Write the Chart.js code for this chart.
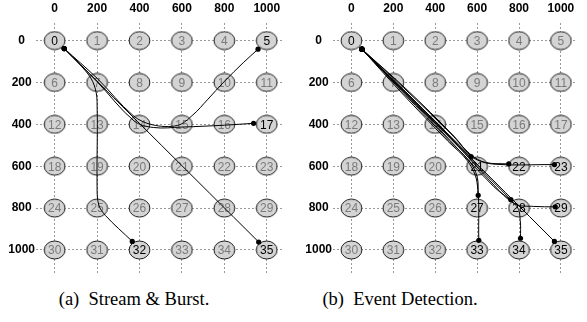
<!DOCTYPE html>
<html><head><meta charset="utf-8">
<script src="https://cdn.jsdelivr.net/npm/chart.js@4.4.1/dist/chart.umd.min.js"></script>
<style>
html,body{margin:0;padding:0;background:#fff;}
body{width:587px;height:322px;position:relative;overflow:hidden;}
.panel{position:absolute;top:0;}
#pa{left:0;}
#pb{left:293px;}
.cap{position:absolute;top:289px;width:240px;text-align:center;font-family:"Liberation Serif","Times New Roman",serif;font-size:18.5px;line-height:20px;color:#000;white-space:nowrap;}
</style></head><body>
<div class="panel" id="pa"><canvas id="ca" width="293" height="284"></canvas></div>
<div class="panel" id="pb"><canvas id="cb" width="294" height="284"></canvas></div>
<div class="cap" style="left:14px">(a)&nbsp; Stream &amp; Burst.</div>
<div class="cap" style="left:280px">(b)&nbsp; Event Detection.</div>
<script>
// ---- data ----
const gridVals = [0, 200, 400, 600, 800, 1000];      // tick labels / node grid positions
const nodeIds = Array.from({length: 36}, (_, i) => i);
const darkA = [0, 5, 17, 32, 35];
const darkB = [0, 21, 22, 23, 27, 28, 29, 33, 34, 35];

// Panel (a) paths: [x, y] waypoints
const a_to5  = [[45,38],[200,180],[370,358],[460,402],[580,405],[652,355],[720,283],[802,193],[890,105],[959,41]];
const a_to17 = [[45,38],[200,196],[375,384],[465,415],[600,413],[801,404],[938,395]];
const a_to32 = [[45,38],[150,150],[186,212],[200,290],[200,700],[208,785],[240,836],[366,959]];
const a_to35 = [[45,38],[962,962]];

// Panel (b) paths
const b_to21 = [[50,41],[571,554]];
const b_to22 = [[50,41],[250,226],[480,450],[570,545],[640,582],[751,589]];
const b_to23 = [[50,41],[260,230],[490,457],[580,558],[680,590],[969,592]];
const b_to27 = [[50,41],[250,252],[470,482],[560,572],[600,650],[605,739]];
const b_to33 = [[50,41],[240,250],[460,480],[555,576],[600,680],[608,954]];
const b_to28 = [[50,41],[761,760]];
const b_to29 = [[50,41],[400,386],[680,690],[780,780],[870,792],[973,794]];
const b_to34 = [[50,41],[400,402],[680,698],[790,792],[806,860],[807,944]];
const b_to35 = [[50,41],[969,959]];

// ---- rendering ----
function nodeImage() {
  const c = document.createElement('canvas');
  c.width = 23; c.height = 20;
  const g = c.getContext('2d');
  g.beginPath();
  g.ellipse(11.5, 10, 10.4, 9, 0, 0, Math.PI * 2);
  g.fillStyle = '#d4d4d4'; g.fill();
  g.lineWidth = 1; g.strokeStyle = '#1a1a1a'; g.stroke();
  return c;
}
const nodeImg = nodeImage();

const nodeLabelPlugin = {
  id: 'nodeLabels',
  afterDatasetDraw(chart, args) {
    const ds = chart.data.datasets[args.index];
    if (!ds.nodeIds) return;
    const ctx = chart.ctx;
    ctx.save();
    ctx.font = '12px "Liberation Sans", Arial, sans-serif';
    ctx.textAlign = 'center';
    ctx.textBaseline = 'middle';
    args.meta.data.forEach((pt, i) => {
      const id = ds.nodeIds[i];
      ctx.fillStyle = ds.dark.includes(id) ? '#000' : '#7a7a7a';
      ctx.fillText(String(id), pt.x, pt.y + 1);
    });
    ctx.restore();
  }
};

function makeChart(id, dark, paths, yw) {
  const nodesDs = {
    data: nodeIds.map(i => ({x: gridVals[i % 6], y: gridVals[Math.floor(i / 6)]})),
    nodeIds: nodeIds, dark: dark,
    pointStyle: nodeImg, pointRadius: 10, showLine: false, order: 1
  };
  const pathDs = paths.map(p => ({
    data: p.map(([x, y]) => ({x, y})),
    showLine: true, borderColor: '#000', borderWidth: 1, tension: 0.35,
    pointRadius: p.map((_, i) => (i === 0 || i === p.length - 1) ? 2.6 : 0),
    pointBackgroundColor: '#000', pointBorderWidth: 0, order: 0
  }));
  const tickFont = {family: '"Liberation Sans", Arial, sans-serif', size: 12, weight: 'bold'};
  const fmt = v => String(v);
  return new Chart(document.getElementById(id), {
    type: 'scatter',
    data: {datasets: [nodesDs, ...pathDs]},
    options: {
      responsive: false, animation: false, events: [],
      layout: {padding: 0},
      plugins: {legend: {display: false}, tooltip: {enabled: false}},
      scales: {
        x: {
          type: 'linear', position: 'top', min: -88, max: 1072,
          afterBuildTicks: a => { a.ticks = gridVals.map(v => ({value: v})); },
          afterFit: a => { a.height = 23; },
          grid: {color: '#9a9a9a', lineWidth: 1, drawTicks: false},
          border: {display: false, dash: [2, 2]},
          ticks: {font: tickFont, color: '#000', padding: 7, maxRotation: 0, callback: fmt}
        },
        y: {
          type: 'linear', position: 'left', reverse: true, min: -84, max: 1110,
          afterBuildTicks: a => { a.ticks = gridVals.map(v => ({value: v})); },
          afterFit: a => { a.width = yw; },
          grid: {color: '#9a9a9a', lineWidth: 1, drawTicks: false},
          border: {display: false, dash: [2, 2]},
          ticks: {font: tickFont, color: '#000', padding: 1, crossAlign: 'center', callback: fmt}
        }
      }
    },
    plugins: [nodeLabelPlugin]
  });
}

makeChart('ca', darkA, [a_to5, a_to17, a_to32, a_to35], 36);
makeChart('cb', darkB, [b_to21, b_to22, b_to23, b_to27, b_to33, b_to28, b_to29, b_to34, b_to35], 40);
</script>
</body></html>
